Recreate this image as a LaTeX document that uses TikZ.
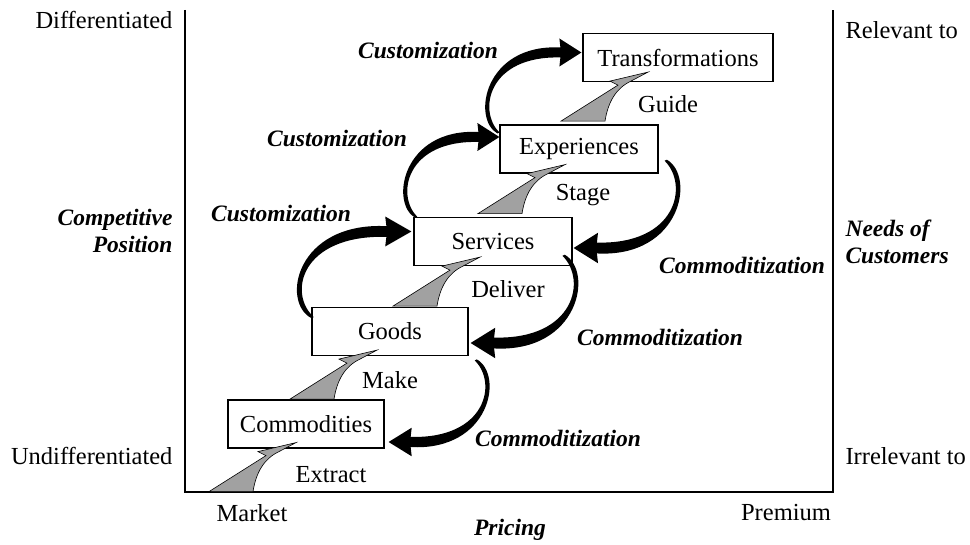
\documentclass[tikz,border=0pt]{standalone}
\usepackage{fontspec}
\setmainfont{Liberation Serif}
\usetikzlibrary{calc}

% gray "lift" wedge, tip at the origin
\newcommand{\liftarrow}[1]{%
  \filldraw[lift, shift={#1}] (0,0) -- (-38,9) -- (-30,13) -- (-87,49) -- (-43,49)
    .. controls (-40,30) and (-32,16) .. (-17,9) -- cycle;}
% black tapered bend arrow, tip at the origin, tail at (-83,81)
\newcommand{\bentarrow}[1]{%
  \fill[#1] (0,0) -- (-22,-14) -- (-21,-5) .. controls (-97,-9) and (-110,66) .. (-84,81)
    -- (-82,80) .. controls (-104,58) and (-93,3) .. (-21,5) -- (-22,14) -- cycle;}

\begin{document}
\begin{tikzpicture}[x=1pt, y=-1pt,
    font=\fontsize{24.5}{27}\selectfont,
    stage/.style={draw, fill=white, line width=1.2pt, inner sep=0pt, minimum height=48},
    lift/.style={fill=black!37, draw=black, line width=0.6pt, line join=miter},
    move/.style={font=\fontsize{23.5}{27}\selectfont\bfseries\itshape}]
    \useasboundingbox (0,0) rectangle (970,545);

    % Axes
    \draw[line width=1.3pt] (185,10) -- (185,492) -- (833,492) -- (833,10);

    % Axis labels
    \node[anchor=east] (diff) at (176,20) {Differentiated};
    \node[anchor=east, align=right, move] (pos) at (176,231) {Competitive\\Position};
    \node[anchor=east] (undiff) at (176,456) {Undifferentiated};
    \node[anchor=west] (rel) at (842,30) {Relevant to};
    \node[anchor=west, align=left, move] (needs) at (842,242) {Needs of\\Customers};
    \node[anchor=west] (irrel) at (842,456) {Irrelevant to};
    \node (market) at (252,513) {Market};
    \node (premium) at (786,513) {Premium};
    \node[move] (pricing) at (510,530) {Pricing};

    % Economic offerings
    \node[stage, minimum width=156] (comm) at (306,424) {Commodities};
    \node[stage, minimum width=156] (goods) at (390,331.5) {Goods};
    \node[stage, minimum width=158] (serv) at (493,241.5) {Services};
    \node[stage, minimum width=158] (exper) at (579,149) {Experiences};
    \node[stage, minimum width=190] (trans) at (678,57.5) {Transformations};

    % Gray lifts with their verbs
    \liftarrow{($(comm.south)+(-10,-6)$)}
    \liftarrow{($(goods.south)+(-13,-6)$)}
    \liftarrow{($(serv.south)+(-13,-9)$)}
    \liftarrow{($(exper.south)+(-14,-9)$)}
    \liftarrow{($(trans.south)+(-30,-10)$)}
    \node (extract) at (331,475) {Extract};
    \node (make) at (390,380) {Make};
    \node (deliver) at (508,289) {Deliver};
    \node (stg) at (583,195) {Stage};
    \node (guide) at (668,104) {Guide};

    % Customization (up the left side)
    \bentarrow{shift={($(serv.west)+(-2,-10)$)}, xscale=1.19, yscale=1.07}
    \bentarrow{shift={($(exper.west)+(0,-12)$)}}
    \bentarrow{shift={($(trans.west)+(-1,-5)$)}}
    \node[move] (cust1) at (281,213) {Customization};
    \node[move] (cust2) at (337,138) {Customization};
    \node[move] (cust3) at (428,50) {Customization};

    % Commoditization (down the right side)
    \bentarrow{shift={($(serv.east)+(1,6.5)$)}, xscale=-1.11, yscale=-1.09}
    \bentarrow{shift={($(goods.east)+(2,11.5)$)}, xscale=-1.12, yscale=-1.09}
    \bentarrow{shift={($(comm.east)+(4,18)$)}, xscale=-1.05, yscale=-1.02}
    \node[move] (com1) at (742,265) {Commoditization};
    \node[move] (com2) at (660,337) {Commoditization};
    \node[move] (com3) at (558,438) {Commoditization};

\end{tikzpicture}
\end{document}
